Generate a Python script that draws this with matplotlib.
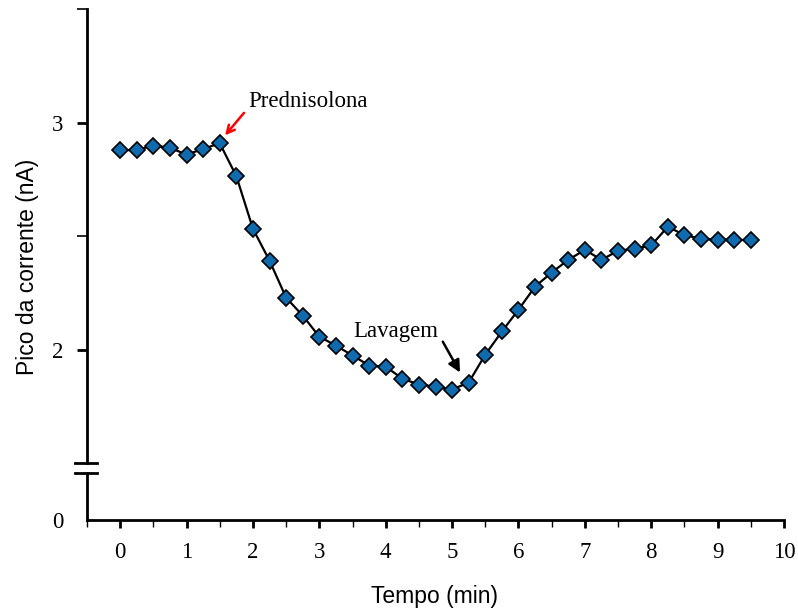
import numpy as np
import matplotlib.pyplot as plt

# dados
tempo = np.arange(0, 9.75, 0.25)
corrente = [2.88, 2.88, 2.90, 2.89, 2.86, 2.885, 2.91, 2.765, 2.533, 2.392,
            2.229, 2.15, 2.057, 2.018, 1.974, 1.93, 1.925, 1.872, 1.846, 1.837,
            1.824, 1.855, 1.978, 2.08, 2.176, 2.278, 2.34, 2.396, 2.44, 2.396,
            2.436, 2.445, 2.46, 2.542, 2.505, 2.489, 2.485, 2.485, 2.482]

xticks = list(range(0, 11))
yticks = [2, 3]

serif = 'Liberation Serif'
sans = 'Liberation Sans'
fs = 16.5

fig = plt.figure(figsize=(7.98, 6.11), dpi=100)
ax = fig.add_axes([0.109, 0.2422, 0.8735, 0.7423])
ax2 = fig.add_axes([0.109, 0.1489, 0.8735, 0.077])

ax.plot(tempo, corrente, color='black', lw=1.6, marker='D', ms=8.5,
        mfc='#0F6BAE', mec='black', mew=1.2, zorder=3)

ax.set_xlim(-0.5, 10)
ax.set_ylim(1.5, 3.5)
ax2.set_xlim(-0.5, 10)
ax2.set_ylim(0, 1)

for a in (ax, ax2):
    for s in ('top', 'right'):
        a.spines[s].set_visible(False)
    a.spines['left'].set_linewidth(2)
ax.spines['bottom'].set_visible(False)
ax2.spines['bottom'].set_linewidth(2)

ax.set_xticks([])
ax.set_yticks(yticks)
ax.set_yticks([2.5, 3.5], minor=True)
ax.set_yticklabels([str(v) for v in yticks], fontfamily=serif, fontsize=fs)
ax.tick_params(axis='y', which='major', direction='out', length=7, width=2, pad=10)
ax.tick_params(axis='y', which='minor', direction='out', length=7, width=1.2)

ax2.set_yticks([0])
ax2.set_yticklabels(['0'], fontfamily=serif, fontsize=fs)
ax2.tick_params(axis='y', length=0, pad=17)
ax2.set_xticks(xticks)
ax2.set_xticks(np.arange(-0.5, 10, 1), minor=True)
ax2.set_xticklabels([str(v) for v in xticks], fontfamily=serif, fontsize=fs)
ax2.tick_params(axis='x', which='major', direction='out', length=6, width=2, pad=10)
ax2.tick_params(axis='x', which='minor', direction='out', length=5, width=1)

# marcas de quebra do eixo
ax.plot([-0.017, 0.0145], [0, 0], transform=ax.transAxes, color='black',
        lw=2, clip_on=False)
ax2.plot([-0.017, 0.0145], [1, 1], transform=ax2.transAxes, color='black',
         lw=2, clip_on=False)

# anotacoes
ax.text(1.925, 3.093, 'Prednisolona', fontfamily=serif, fontsize=fs,
        va='center', ha='left')
ax.annotate('', xy=(1.58, 2.945), xytext=(1.865, 3.044),
            arrowprops=dict(arrowstyle='->', color='red', lw=1.8,
                            shrinkA=0, shrinkB=0, mutation_scale=14))
ax.text(3.507, 2.079, 'Lavagem', fontfamily=serif, fontsize=fs,
        va='center', ha='left')
ax.annotate('', xy=(5.12, 1.899), xytext=(4.86, 2.035),
            arrowprops=dict(arrowstyle='-|>', color='black', lw=1.8,
                            shrinkA=0, shrinkB=0, mutation_scale=18))

fig.text(0.034, 0.563, 'Pico da corrente (nA)', rotation=90, ha='center',
         va='center', fontfamily=sans, fontsize=fs)
fig.text(0.545, 0.023, 'Tempo (min)', ha='center', va='center',
         fontfamily=sans, fontsize=fs)

fig.savefig('out.png', dpi=100)
